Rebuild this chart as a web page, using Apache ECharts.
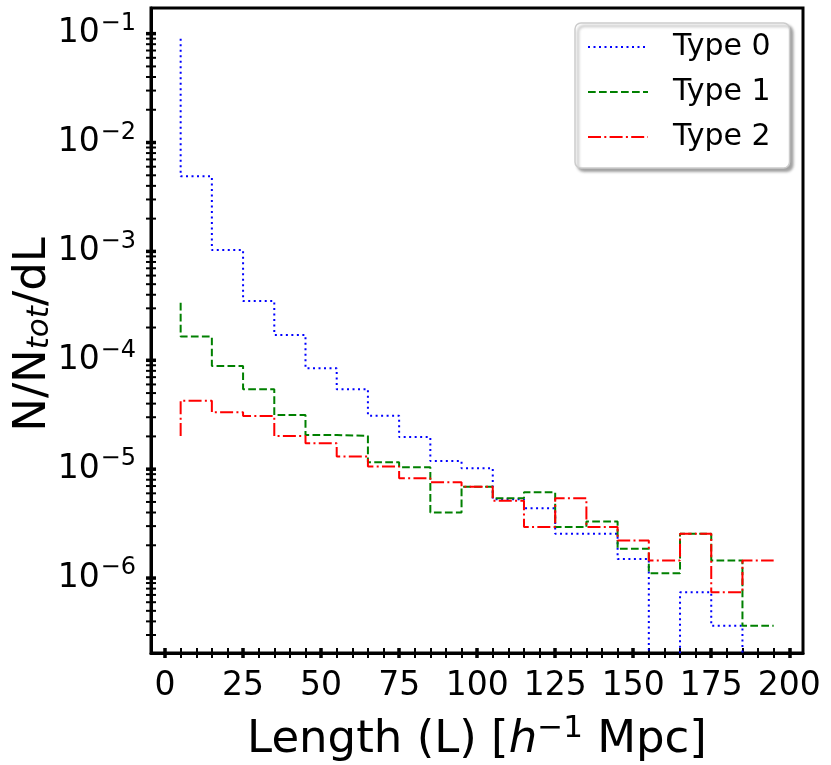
<!DOCTYPE html>
<html>
<head>
<meta charset="utf-8">
<script src="https://cdn.jsdelivr.net/npm/echarts@6/dist/echarts.min.js"></script>
<style>
html, body { margin: 0; padding: 0; background: #fff; }
#chart { width: 831px; height: 765px; }
</style>
</head>
<body>
<div id="chart"></div>
<script>
// bin centres, h^-1 Mpc
const lengths = [5, 15, 25, 35, 45, 55, 65, 75, 85, 95, 105, 115, 125, 135, 145, 155, 165, 175, 185, 195];

// N/Ntot/dL (0 = empty bin)
const type0 = [0.090, 4.9e-3, 1.03e-3, 3.5e-4, 1.71e-4, 8.45e-5, 5.42e-5, 3.1e-5, 1.97e-5, 1.19e-5,
    1.02e-5, 5.3e-6, 4.38e-6, 2.55e-6, 2.55e-6, 1.5e-6, 0, 7.4e-7, 3.65e-7, 0];
const type1 = [3.37e-4, 1.65e-4, 8.87e-5, 5.42e-5, 3.15e-5, 2.06e-5, 2.02e-5, 1.16e-5, 1.04e-5, 4.0e-6,
    6.9e-6, 5.42e-6, 6.15e-6, 2.94e-6, 3.31e-6, 1.86e-6, 1.11e-6, 2.55e-6, 1.45e-6, 3.65e-7];
const type2 = [2.02e-5, 4.26e-5, 3.33e-5, 3.08e-5, 2.02e-5, 1.73e-5, 1.31e-5, 1.06e-5, 8.27e-6, 7.6e-6,
    6.9e-6, 5.12e-6, 2.94e-6, 5.42e-6, 2.94e-6, 2.21e-6, 1.45e-6, 2.55e-6, 7.4e-7, 1.45e-6];

// ticks
const xMajorTicks = [0, 25, 50, 75, 100, 125, 150, 175, 200];
const xMinorTicks = [5, 10, 15, 20, 30, 35, 40, 45, 55, 60, 65, 70, 80, 85, 90, 95, 105, 110, 115, 120,
    130, 135, 140, 145, 155, 160, 165, 170, 180, 185, 190, 195];
const yMajorTicks = [1e-6, 1e-5, 1e-4, 1e-3, 1e-2, 1e-1];
const yMinorMantissa = [2, 3, 4, 5, 6, 7, 8, 9];
const yMinorDecades = [-7, -6, -5, -4, -3, -2];

const X_MIN = -4.5, X_MAX = 204.4;
const Y_MIN = 2.05e-7, Y_MAX = 0.172;
const LOG_FLOOR = 1e-9; // empty bins drop below the axis, like matplotlib clipping

const yMinorTicks = [];
yMinorDecades.forEach(function (d) {
    yMinorMantissa.forEach(function (m) {
        const v = Number((m * Math.pow(10, d)).toPrecision(3));
        if (v >= Y_MIN && v <= Y_MAX) yMinorTicks.push(v);
    });
});

// y tick marks: [x at spine, value, line width]
const yTickData = yMajorTicks.map(function (v) { return [X_MIN, v, 3.5]; })
    .concat(yMinorTicks.map(function (v) { return [X_MIN, v, 2]; }));

function toPoints(ys) {
    return ys.map(function (v, i) { return [lengths[i], v > 0 ? v : LOG_FLOOR]; });
}

const FONT = "DejaVu Sans";

// tick-only axes, shifted inward so ticks cross the spine (matplotlib "inout")
function xTickAxis(values, w) {
    return {
        type: "value", min: X_MIN, max: X_MAX, position: "bottom", offset: -5,
        axisLine: { show: false, onZero: false }, splitLine: { show: false }, axisLabel: { show: false },
        axisTick: { show: true, length: 10, customValues: values, lineStyle: { color: "#000", width: w } },
    };
}

const option = {
    animation: false,
    backgroundColor: "#fff",
    grid: {
        left: 151, right: 28, top: 8, bottom: 112,
        outerBoundsMode: "none", containLabel: false,
        show: true, borderColor: "#000", borderWidth: 3, backgroundColor: "transparent",
    },
    legend: {
        orient: "vertical", left: 575, top: 23,
        padding: [7, 19, 14, 12],
        itemWidth: 60, itemHeight: 20, itemGap: 11, align: "left",
        backgroundColor: "#fff", borderColor: "#cccccc", borderWidth: 1.5, borderRadius: 6,
        shadowColor: "rgba(0,0,0,0.35)", shadowBlur: 3, shadowOffsetX: 3, shadowOffsetY: 3,
        itemStyle: { color: "rgba(0,0,0,0)", borderColor: "rgba(0,0,0,0)", borderWidth: 0, opacity: 0 },
        textStyle: { fontFamily: FONT, fontSize: 30, color: "#000", lineHeight: 34, padding: [0, 0, 0, 20] },
        data: ["Type 0", "Type 1", "Type 2"],
    },
    xAxis: [
        {
            type: "value", min: X_MIN, max: X_MAX, position: "bottom",
            axisLine: { show: true, onZero: false, lineStyle: { color: "#000", width: 3 } },
            axisTick: { show: false }, splitLine: { show: false },
            axisLabel: { customValues: xMajorTicks, fontFamily: FONT, fontSize: 33, color: "#000", margin: 17 },
            name: "{n|Length (L) [}{it|h}{sup|\u22121}{n| Mpc]}",
            nameLocation: "middle", nameGap: 61, nameMoveOverlap: false,
            nameTextStyle: {
                fontFamily: FONT, color: "#000",
                rich: {
                    n: { fontFamily: FONT, fontSize: 45, color: "#000", lineHeight: 52 },
                    it: { fontFamily: FONT, fontSize: 45, fontStyle: "italic", color: "#000", lineHeight: 52 },
                    sup: { fontFamily: FONT, fontSize: 31, color: "#000", lineHeight: 31, padding: [0, 0, 22, 0] },
                },
            },
        },
        xTickAxis(xMajorTicks, 3.5),
        xTickAxis(xMinorTicks, 2),
    ],
    yAxis: [
        {
            type: "log", min: Y_MIN, max: Y_MAX, position: "left",
            axisLine: { show: true, onZero: false, lineStyle: { color: "#000", width: 3 } },
            axisTick: { show: false }, splitLine: { show: false },
            axisLabel: {
                customValues: yMajorTicks, margin: 15,
                formatter: function (v) {
                    const e = Math.round(Math.log10(v));
                    return "{b|10}{sup|\u2212" + (-e) + "}";
                },
                rich: {
                    b: { fontFamily: FONT, fontSize: 33, color: "#000", lineHeight: 40 },
                    sup: { fontFamily: FONT, fontSize: 24, color: "#000", lineHeight: 24, padding: [0, 0, 20, 1] },
                },
            },
            name: "{n|N/N}{sub|tot}{n|/dL}",
            nameLocation: "middle", nameGap: 92, nameRotate: 90, nameMoveOverlap: false,
            nameTextStyle: {
                fontFamily: FONT, color: "#000", padding: [0, 8, 0, 0],
                rich: {
                    n: { fontFamily: FONT, fontSize: 45, color: "#000", lineHeight: 52 },
                    sub: { fontFamily: FONT, fontSize: 31, fontStyle: "italic", color: "#000", lineHeight: 31, padding: [14, 0, 0, 0] },
                },
            },
        },
    ],
    series: [
        {
            name: "Type 0", type: "line", step: "start", data: toPoints(type0),
            symbol: "none", clip: true,
            lineStyle: { color: "#0000ff", width: 2, type: [2, 3.5], cap: "butt" },
            itemStyle: { color: "#0000ff" },
        },
        {
            name: "Type 1", type: "line", step: "start", data: toPoints(type1),
            symbol: "none", clip: true,
            lineStyle: { color: "#008000", width: 2, type: [7.7, 3.3], cap: "butt" },
            itemStyle: { color: "#008000" },
        },
        {
            name: "Type 2", type: "line", step: "start", data: toPoints(type2),
            symbol: "none", clip: true,
            lineStyle: { color: "#ff0000", width: 2, type: [13, 3.3, 2, 3.3], cap: "butt" },
            itemStyle: { color: "#ff0000" },
        },
        {
            // y-axis tick marks crossing the spine
            type: "custom", coordinateSystem: "cartesian2d", clip: false, silent: true, z: 5,
            data: yTickData,
            renderItem: function (params, api) {
                const p = api.coord([api.value(0), api.value(1)]);
                return {
                    type: "line",
                    shape: { x1: p[0] - 5, y1: p[1], x2: p[0] + 5, y2: p[1] },
                    style: { stroke: "#000", lineWidth: api.value(2) },
                };
            },
        },
    ],
};

const chart = echarts.init(document.getElementById("chart"));
chart.setOption(option);
</script>
</body>
</html>
